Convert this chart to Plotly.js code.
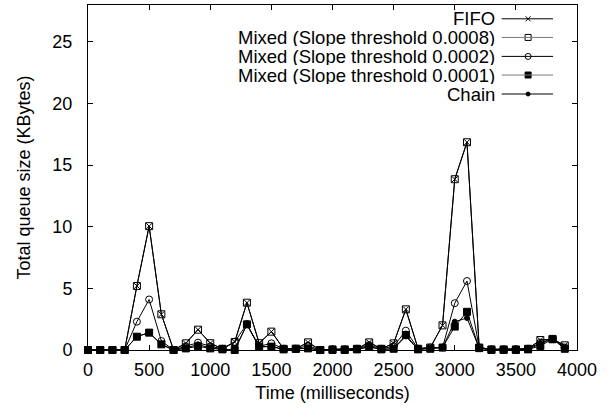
<!DOCTYPE html>
<html>
<head>
<meta charset="utf-8">
<script src="https://cdn.plot.ly/plotly-3.0.1.min.js"></script>
<style>html,body{margin:0;padding:0;background:#fff;}#chart{width:613px;height:414px;}</style>
</head>
<body>
<div id="chart"></div>
<script>
// Time (ms)
const timeMs = [0,100,200,300,400,500,600,700,800,900,1000,1100,1200,1300,1400,1500,1600,1700,1800,1900,
                2000,2100,2200,2300,2400,2500,2600,2700,2800,2900,3000,3100,3200,3300,3400,3500,3600,3700,3800,3900];
// Total queue size (KBytes)
const fifo =      [0,0,0,0,5.2,10.05,2.9,0,0.54,1.65,0.55,0.1,0.65,3.84,0.55,1.49,0.1,0.1,0.62,0,
                   0.05,0.05,0.1,0.62,0.1,0.54,3.3,0.1,0.2,2.0,13.86,16.86,0.2,0.05,0.05,0.05,0.1,0.81,0.87,0.38];
const mixed0008 = [0,0,0,0,5.2,10.05,2.9,0,0.54,1.65,0.55,0.1,0.65,3.84,0.55,1.49,0.1,0.1,0.62,0,
                   0.05,0.05,0.1,0.62,0.1,0.54,3.3,0.1,0.2,2.0,13.86,16.86,0.2,0.05,0.05,0.05,0.1,0.81,0.87,0.38];
const mixed0002 = [0,0,0,0,2.3,4.1,0.73,0,0.3,0.6,0.3,0.1,0.67,2.1,0.3,0.54,0.1,0.1,0.35,0,
                   0.05,0.05,0.1,0.4,0.1,0.3,1.57,0.1,0.2,0.2,3.8,5.6,0.2,0.05,0.05,0.05,0.1,0.6,0.9,0.2];
const mixed0001 = [0,0,0,0,1.08,1.41,0.46,0,0.13,0.3,0.13,0.05,0,2.08,0.27,0.27,0.05,0.1,0.13,0,
                   0,0,0.05,0.27,0.05,0.1,1.22,0.05,0.1,0.2,1.9,3.1,0.15,0,0,0,0.05,0.33,0.9,0.1];
const chain =     [0,0,0,0,1.1,1.4,0.45,0,0.15,0.46,0.15,0.05,0,2.05,0.25,0.3,0.05,0.1,0.15,0,
                   0,0,0.05,0.25,0.05,0.1,1.1,0.05,0.1,0.2,2.3,2.6,0.15,0,0,0,0.05,0.5,0.95,0.1];
const seriesNames = ["FIFO","Mixed (Slope threshold 0.0008)","Mixed (Slope threshold 0.0002)","Mixed (Slope threshold 0.0001)","Chain"];
const xTicks = [0,500,1000,1500,2000,2500,3000,3500,4000];
const yTicks = [0,5,10,15,20,25];

const styles = [
  {symbol:'x-thin-open', size:6, legendLine:'#000'},
  {symbol:'square-open', size:7, legendLine:'#777'},
  {symbol:'circle-open', size:7, legendLine:'#000'},
  {symbol:'square', size:7, legendLine:'#777'},
  {symbol:'circle', size:5, legendLine:'#000'}
];
const allY = [fifo, mixed0008, mixed0002, mixed0001, chain];

const traces = allY.map((ys,i)=>({
  x: timeMs, y: ys, type:'scatter', mode:'lines+markers', name: seriesNames[i],
  line:{color:'#000', width:1},
  marker:{symbol:styles[i].symbol, size:styles[i].size, color:'#000', line:{color:'#000', width:1}},
  cliponaxis:false, showlegend:false
}));

// custom legend (text on the left, sample on the right)
const legRows = [0.960,0.906,0.851,0.797,0.742];
const shapes = [];
const annotations = [];
legRows.forEach((yy,i)=>{
  shapes.push({type:'line', xref:'paper', yref:'paper', x0:0.846, x1:0.951, y0:yy, y1:yy,
               line:{color:styles[i].legendLine, width:1}});
  annotations.push({xref:'paper', yref:'paper', x:0.834, y:yy, xanchor:'right', yanchor:'middle',
                    text:seriesNames[i], showarrow:false, height:17, borderpad:0,
                    font:{size:18.5, color:'#000'}});
  traces.push({x:[0.900], y:[yy], xaxis:'x2', yaxis:'y2', type:'scatter', mode:'markers',
               marker:{symbol:styles[i].symbol, size:styles[i].size-1, color:'#000', line:{color:'#000', width:1}},
               showlegend:false, hoverinfo:'skip', cliponaxis:false});
});

const layout = {
  width:613, height:414,
  margin:{l:88, r:36, t:5, b:64},
  paper_bgcolor:'#fff', plot_bgcolor:'#fff',
  font:{family:'"Liberation Sans", Arial, Helvetica, sans-serif', size:18, color:'#000'},
  showlegend:false,
  xaxis:{range:[0,4000], tickvals:xTicks, ticktext:xTicks.map(String), ticks:'inside', ticklen:5,
         tickcolor:'#000', showline:true, linecolor:'#000', linewidth:1, mirror:'ticks',
         ticklabelstandoff:3, tickfont:{size:18},
         showgrid:false, zeroline:false, title:{text:'Time (milliseconds)', font:{size:18}, standoff:7}},
  yaxis:{range:[0,28], tickvals:yTicks, ticktext:yTicks.map(String), ticks:'inside', ticklen:5,
         tickcolor:'#000', showline:true, linecolor:'#000', linewidth:1, mirror:'ticks',
         ticklabelstandoff:11, tickfont:{size:18},
         showgrid:false, zeroline:false, title:{text:'Total queue size (KBytes)', font:{size:18}, standoff:17}},
  xaxis2:{range:[0,1], overlaying:'x', visible:false, fixedrange:true},
  yaxis2:{range:[0,1], overlaying:'y', visible:false, fixedrange:true},
  shapes:shapes, annotations:annotations
};
Plotly.newPlot('chart', traces, layout, {staticPlot:true, displayModeBar:false});
</script>
</body>
</html>
